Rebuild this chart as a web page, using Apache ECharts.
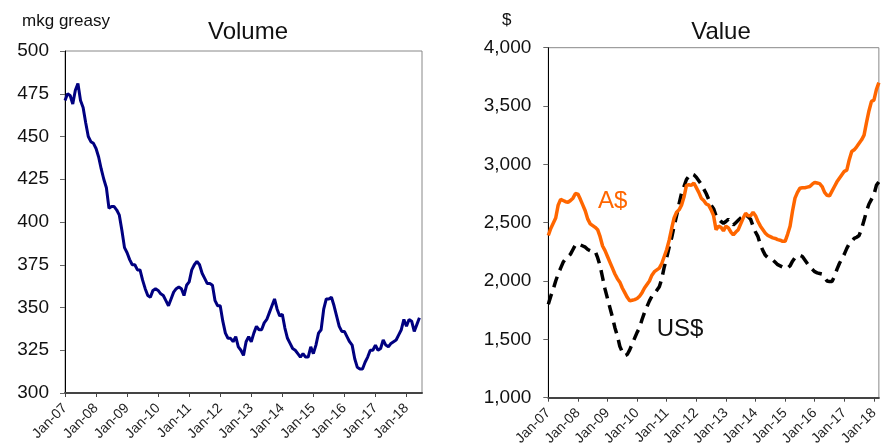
<!DOCTYPE html>
<html>
<head>
<meta charset="utf-8">
<script src="https://cdn.jsdelivr.net/npm/echarts@6/dist/echarts.min.js"></script>
<style>
html,body{margin:0;padding:0;background:#fff;}
#chart{width:881px;height:448px;}
</style>
</head>
<body>
<div id="chart"></div>
<script>
// Category labels: months Jan-07 .. Jul-18
const years = ['07','08','09','10','11','12','13','14','15','16','17','18'];
const monthNames = ['Jan','Feb','Mar','Apr','May','Jun','Jul','Aug','Sep','Oct','Nov','Dec'];
const months = [];
years.forEach(y => monthNames.forEach(m => months.push(m + '-' + y)));
const categoriesVolume = months.slice(0, 139); // Jan-07 .. Jul-18
const categoriesValue = months.slice(0, 135);  // Jan-07 .. Mar-18 (visible part)

// Volume (mkg greasy), monthly from Jan-07
const volume = [
471,475,474,469,477,481,471,467,458,450,447,446,
443,438,431,425,420,408,409,409,407,404,395,385,
382,378,375,375,372,372,366,361,357,356,360,361,
360,358,357,354,351,355,359,361,362,361,357,363,
365,372,375,377,375,370,367,364,364,363,354,351,
351,342,335,332,332,330,333,327,325,322,330,333,
330,335,339,337,337,341,343,347,351,355,349,345,
346,338,332,329,326,325,323,321,323,321,321,327,
323,328,335,337,349,355,355,356,351,345,339,336,
336,333,330,328,320,315,314,314,318,321,325,325,
328,325,326,331,328,327,329,330,331,334,337,343,
339,343,342,336,340,344
];

// Value in A$, monthly from Jan-07
const valueAUD = [
2390,2450,2495,2540,2650,2700,2690,2680,2675,2690,2710,2750,
2745,2700,2650,2600,2530,2490,2475,2460,2440,2380,2300,2260,
2210,2160,2110,2060,2020,1990,1940,1900,1860,1830,1835,1840,
1850,1870,1900,1940,1970,2000,2050,2080,2095,2110,2150,2210,
2270,2350,2450,2540,2590,2610,2650,2720,2820,2825,2820,2840,
2800,2760,2710,2690,2660,2650,2610,2560,2440,2470,2460,2430,
2470,2455,2420,2395,2420,2440,2490,2540,2580,2560,2560,2590,
2560,2510,2470,2440,2410,2390,2380,2370,2365,2355,2350,2340,
2340,2400,2470,2600,2710,2760,2795,2800,2800,2805,2810,2830,
2845,2840,2835,2810,2760,2735,2730,2770,2810,2850,2880,2910,
2940,2950,3040,3110,3125,3150,3180,3210,3250,3360,3460,3540,
3550,3640,3700
];

// Value in US$, monthly from Jan-07
const valueUSD = [
1800,1870,1930,2000,2060,2110,2160,2190,2210,2230,2270,2310,
2320,2310,2300,2290,2270,2260,2255,2255,2200,2130,2030,1930,
1850,1770,1690,1600,1530,1440,1390,1360,1370,1410,1460,1510,
1560,1600,1670,1730,1780,1830,1870,1890,1920,1950,2020,2120,
2200,2290,2370,2470,2560,2660,2750,2810,2870,2900,2920,2910,
2890,2860,2830,2790,2750,2700,2650,2620,2560,2530,2510,2495,
2510,2530,2510,2480,2500,2520,2540,2555,2570,2550,2530,2470,
2420,2380,2310,2260,2220,2200,2190,2180,2160,2140,2130,2120,
2110,2110,2130,2170,2200,2215,2220,2210,2180,2150,2120,2100,
2080,2070,2065,2060,2030,2000,1995,1995,2040,2100,2150,2190,
2230,2280,2320,2340,2365,2375,2390,2450,2520,2600,2660,2700,
2740,2820,2850
];

const FONT = '"Liberation Sans", Arial, sans-serif';
const chart = echarts.init(document.getElementById('chart'));

function xAxisCfg(gridIndex, cats) {
  return {
    type: 'category', gridIndex: gridIndex, data: cats, boundaryGap: false,
    axisLine: { lineStyle: { color: '#444', width: 2 } },
    axisTick: { interval: 11, length: 4, lineStyle: { color: '#444', width: 1 } },
    axisLabel: { interval: 11, rotate: 45, fontSize: 14, fontFamily: FONT, color: '#222', margin: 13 },
    splitLine: { show: false }
  };
}

chart.setOption({
  animation: false,
  backgroundColor: '#fff',
  grid: [
    { left: 65, right: 459, top: 51, bottom: 55, show: true, borderColor: '#888', borderWidth: 1 },
    { left: 548.3, right: 0, top: 47.7, bottom: 50.3, show: true, borderColor: '#888', borderWidth: 1 }
  ],
  xAxis: [xAxisCfg(0, categoriesVolume), xAxisCfg(1, categoriesValue)],
  yAxis: [
    {
      type: 'value', gridIndex: 0, min: 300, max: 500, interval: 25,
      axisLine: { show: true, lineStyle: { color: '#000', width: 1 } },
      axisTick: { show: true, length: 5, lineStyle: { color: '#666' } },
      axisLabel: { fontSize: 19, fontFamily: FONT, color: '#111', margin: 16 },
      splitLine: { show: false }
    },
    {
      type: 'value', gridIndex: 1, min: 1000, max: 4000, interval: 500,
      axisLine: { show: true, lineStyle: { color: '#000', width: 1 } },
      axisTick: { show: true, length: 5, lineStyle: { color: '#666' } },
      axisLabel: { fontSize: 19, fontFamily: FONT, color: '#111', margin: 17,
        formatter: v => v.toLocaleString('en-US') },
      splitLine: { show: false }
    }
  ],
  series: [
    { type: 'line', xAxisIndex: 0, yAxisIndex: 0, data: volume, showSymbol: false,
      lineStyle: { color: '#000080', width: 3 }, z: 3 },
    { type: 'line', xAxisIndex: 1, yAxisIndex: 1, data: valueUSD, showSymbol: false,
      lineStyle: { color: '#000', width: 3.5, type: [11, 7] }, z: 3 },
    { type: 'line', xAxisIndex: 1, yAxisIndex: 1, data: valueAUD, showSymbol: false,
      lineStyle: { color: '#ff6600', width: 3.5 }, z: 4 }
  ],
  graphic: [
    { type: 'text', x: 66, y: 21.7, style: { text: 'mkg greasy', font: '17px ' + FONT, fill: '#111', textAlign: 'center', textVerticalAlign: 'middle' } },
    { type: 'text', x: 248, y: 32, style: { text: 'Volume', font: '24px ' + FONT, fill: '#111', textAlign: 'center', textVerticalAlign: 'middle' } },
    { type: 'text', x: 506.7, y: 20.7, style: { text: '$', font: '17px ' + FONT, fill: '#111', textAlign: 'center', textVerticalAlign: 'middle' } },
    { type: 'text', x: 721, y: 32, style: { text: 'Value', font: '24px ' + FONT, fill: '#111', textAlign: 'center', textVerticalAlign: 'middle' } },
    { type: 'text', x: 612.7, y: 201.7, style: { text: 'A$', font: '24px ' + FONT, fill: '#ff6600', textAlign: 'center', textVerticalAlign: 'middle' } },
    { type: 'text', x: 680, y: 329, style: { text: 'US$', font: '24px ' + FONT, fill: '#111', textAlign: 'center', textVerticalAlign: 'middle' } }
  ]
});
</script>
</body>
</html>
